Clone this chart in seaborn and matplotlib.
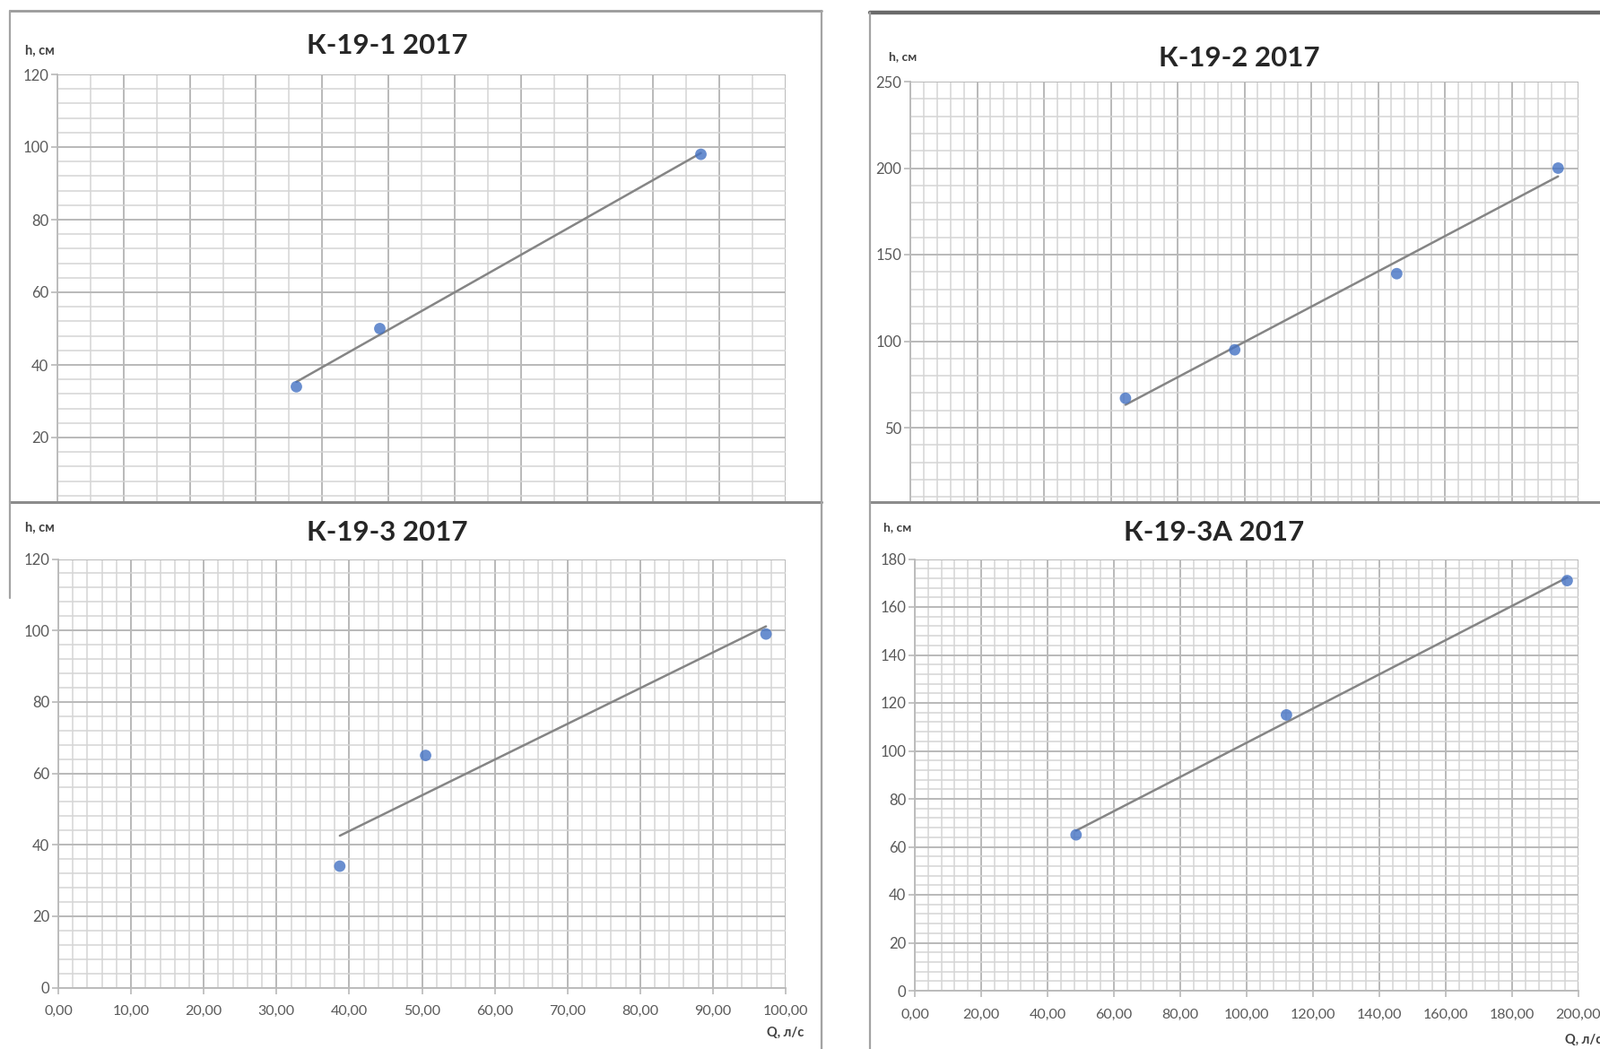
import matplotlib
matplotlib.use('Agg')
import matplotlib.pyplot as plt
import matplotlib.patches as patches
from matplotlib.lines import Line2D
from matplotlib.ticker import MultipleLocator, FuncFormatter
import seaborn as sns

# ---------------- data ----------------
titles = ['К-19-1 2017', 'К-19-2 2017', 'К-19-3 2017', 'К-19-3А 2017']

q_191 = [36.1, 48.7, 97.2]          # Q, л/с
h_191 = [34, 50, 98]                # h, см

q_192 = [64.4, 97.1, 145.6, 193.9]
h_192 = [67, 95, 139, 200]

q_193 = [38.7, 50.5, 97.3]
h_193 = [34, 65, 99]

q_193a = [48.6, 112.0, 196.6]
h_193a = [65, 115, 171]

# ---------------- style ----------------
W, H = 1784, 1170
sns.set_theme(style='white')
plt.rcParams['font.family'] = ['Lato', 'DejaVu Sans']

GRID_MAJ = '#b9b9b9'
GRID_MIN = '#d5d5d5'
FRAME = '#a3a3a3'
BLUE = '#4472C4'

fig = plt.figure(figsize=(W / 100, H / 100), dpi=100)


def box(x0, y0, x1, y1):
    # pixel box (from top-left corner) -> figure fraction
    return [x0 / W, 1 - y1 / H, (x1 - x0) / W, (y1 - y0) / H]


def fline(x0, y0, x1, y1, color=FRAME, lw=1.6, z=1):
    fig.add_artist(Line2D([x0 / W, x1 / W], [1 - y0 / H, 1 - y1 / H],
                          transform=fig.transFigure, color=color, lw=lw, zorder=z))


def white_panel(x0, y0, x1, y1, z):
    fig.add_artist(patches.Rectangle((x0 / W, 1 - y1 / H), (x1 - x0) / W, (y1 - y0) / H,
                                     transform=fig.transFigure, fc='white', ec='none', zorder=z))


def comma2(v, pos):
    return f'{v:.2f}'.replace('.', ',')


def chart(rect, q, h, xmax, xmaj, xmin, ymax, ymaj, ymin, z, xlabels=True):
    ax = fig.add_axes(box(*rect))
    ax.set_zorder(z)
    sns.regplot(x=q, y=h, ax=ax, ci=None, truncate=True,
                scatter_kws=dict(s=85, color=BLUE, edgecolor='none', zorder=4),
                line_kws=dict(color='#858585', lw=1.8, zorder=3))
    ax.set_xlim(0, xmax)
    ax.set_ylim(0, ymax)
    ax.xaxis.set_major_locator(MultipleLocator(xmaj))
    ax.xaxis.set_minor_locator(MultipleLocator(xmin))
    ax.yaxis.set_major_locator(MultipleLocator(ymaj))
    ax.yaxis.set_minor_locator(MultipleLocator(ymin))
    ax.xaxis.set_major_formatter(FuncFormatter(comma2))
    ax.grid(which='major', color=GRID_MAJ, lw=1.4)
    ax.grid(which='minor', color=GRID_MIN, lw=1.1)
    ax.set_axisbelow(True)
    ax.tick_params(which='major', bottom=True, left=True, length=5, width=1.2,
                   color=GRID_MAJ, labelcolor='#595959', direction='out')
    ax.tick_params(axis='y', which='major', labelsize=12, pad=2)
    ax.tick_params(axis='x', which='major', labelsize=11.5, pad=9, labelbottom=xlabels)
    ax.tick_params(which='minor', length=0)
    for s in ['top', 'right']:
        ax.spines[s].set_visible(False)
    for s in ['left', 'bottom']:
        ax.spines[s].set_color(GRID_MAJ)
        ax.spines[s].set_linewidth(1.3)
    ax.set_xlabel('')
    ax.set_ylabel('')
    ax.set_facecolor('white')
    return ax


title_kw = dict(ha='center', va='center', fontsize=22.5, weight='bold', color='#262626')
small_kw = dict(va='center', weight='bold', color='#404040')

# ---------------- top row (their x axes are hidden under the lower panels) ----------------
fline(11, 12, 916, 12, color='#9a9a9a', lw=2, z=0.5)
fline(11, 12, 11, 560, z=0.5)
fline(916, 12, 916, 1170, z=0.5)
fline(970, 14, 1784, 14, color='#6a6a6a', lw=3.2, z=0.5)
fline(970, 14, 970, 560, z=0.5)

chart((64, 83, 876, 569), q_191, h_191, 110, 10, 5, 120, 20, 4, 1, xlabels=False)
chart((1015, 91, 1760, 573.5), q_192, h_192, 200, 20, 4, 250, 50, 10, 1, xlabels=False)

fig.text(432 / W, 1 - 51 / H, titles[0], zorder=1.5, **title_kw)
fig.text(1382 / W, 1 - 65 / H, titles[1], zorder=1.5, **title_kw)
fig.text(44 / W, 1 - 57 / H, 'h, см', ha='center', fontsize=10.5, zorder=1.5, **small_kw)
fig.text(1007 / W, 1 - 63 / H, 'h, см', ha='center', fontsize=10, zorder=1.5, **small_kw)

# ---------------- bottom row ----------------
white_panel(11, 560, 916, 1170, 2)
white_panel(970, 560, 1784, 1170, 2)
fline(11, 560, 916, 560, color='#8c8c8c', lw=2.2, z=2.1)
fline(970, 560, 1784, 560, color='#8c8c8c', lw=2.2, z=2.1)
fline(11, 560, 11, 667, z=2.1)
fline(916, 560, 916, 1170, z=2.1)
fline(970, 560, 970, 1170, z=2.1)

chart((65, 623.5, 876, 1101.5), q_193, h_193, 100, 10, 2, 120, 20, 4, 3)
chart((1020, 623.5, 1760, 1105), q_193a, h_193a, 200, 20, 4, 180, 20, 4, 3)

fig.text(432 / W, 1 - 594 / H, titles[2], zorder=4, **title_kw)
fig.text(1354 / W, 1 - 594 / H, titles[3], zorder=4, **title_kw)
fig.text(44 / W, 1 - 589 / H, 'h, см', ha='center', fontsize=10.5, zorder=4, **small_kw)
fig.text(1001 / W, 1 - 588 / H, 'h, см', ha='center', fontsize=10, zorder=4, **small_kw)
fig.text(855 / W, 1 - 1152 / H, 'Q, л/с', ha='left', fontsize=10.5, zorder=4, **small_kw)
fig.text(1745 / W, 1 - 1160 / H, 'Q, л/с', ha='left', fontsize=10.5, zorder=4, **small_kw)

fig.savefig('out.png', dpi=100)
